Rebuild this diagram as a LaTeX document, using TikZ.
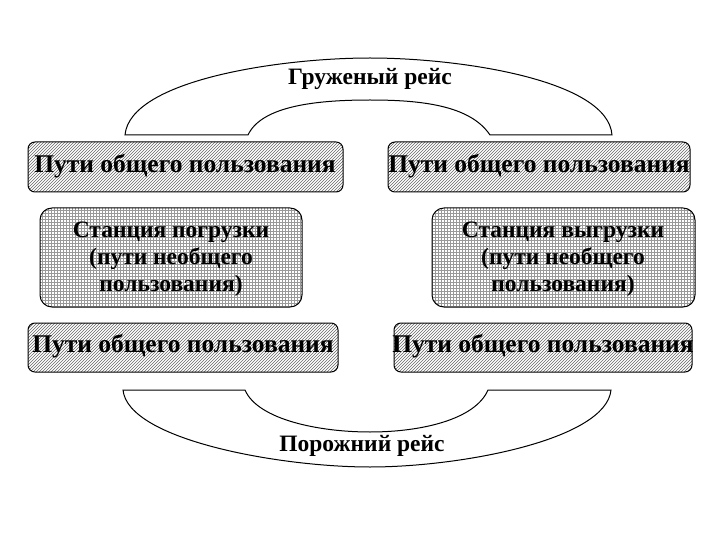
\documentclass[tikz,border=0pt]{standalone}
\usepackage{fontspec}
\setmainfont{Liberation Serif}
\usetikzlibrary{patterns}
\begin{document}
\begin{tikzpicture}[x=1pt,y=-1pt,
  hatch/.style={draw,line width=1pt,rounded corners=7pt,pattern=north east lines,pattern color=black!60},
  gridbox/.style={draw,line width=1pt,rounded corners=12pt,pattern=grid,pattern color=black!40},
  arch/.style={draw,line width=1pt,fill=white},
  lbl/.style={font=\bfseries\fontsize{25.5}{28}\selectfont},
  tlbl/.style={font=\bfseries\fontsize{23.5}{26}\selectfont},
  slbl/.style={font=\bfseries\fontsize{23.5}{27}\selectfont,align=center}]
\useasboundingbox (0,0) rectangle (720,540);
\path[arch] (125,135) .. controls (130,80) and (280,58) .. (370,58) .. controls (460,58) and (608,80) .. (612,135) -- (490,135) .. controls (470,105) and (420,100) .. (370,100) .. controls (320,100) and (262,105) .. (248,135) -- cycle;
\path[arch] (123,390) .. controls (128,440) and (280,467) .. (370,467) .. controls (460,467) and (606,440) .. (611,390) -- (488,390) .. controls (475,420) and (420,432) .. (370,432) .. controls (320,432) and (258,420) .. (245,390) -- cycle;
\node[tlbl] (gr) at (370,79) {Груженый рейс};
\node[tlbl] (po) at (362,446) {Порожний рейс};
\path[hatch] (28,142) rectangle (343,192);
\node[lbl] (tl) at (185,166) {Пути общего пользования};
\path[hatch] (388,142) rectangle (690,192);
\node[lbl] (tr) at (539,166) {Пути общего пользования};
\path[gridbox] (40,208) rectangle (302,307);
\node[slbl] (ml) at (171,259) {Станция погрузки\\(пути необщего\\пользования)};
\path[gridbox] (432,208) rectangle (695,307);
\node[slbl] (mr) at (563,259) {Станция выгрузки\\(пути необщего\\пользования)};
\path[hatch] (28,323) rectangle (338,372);
\node[lbl] (bl) at (183,346) {Пути общего пользования};
\path[hatch] (394,323) rectangle (692,372);
\node[lbl] (br) at (543,346) {Пути общего пользования};
\end{tikzpicture}
\end{document}
